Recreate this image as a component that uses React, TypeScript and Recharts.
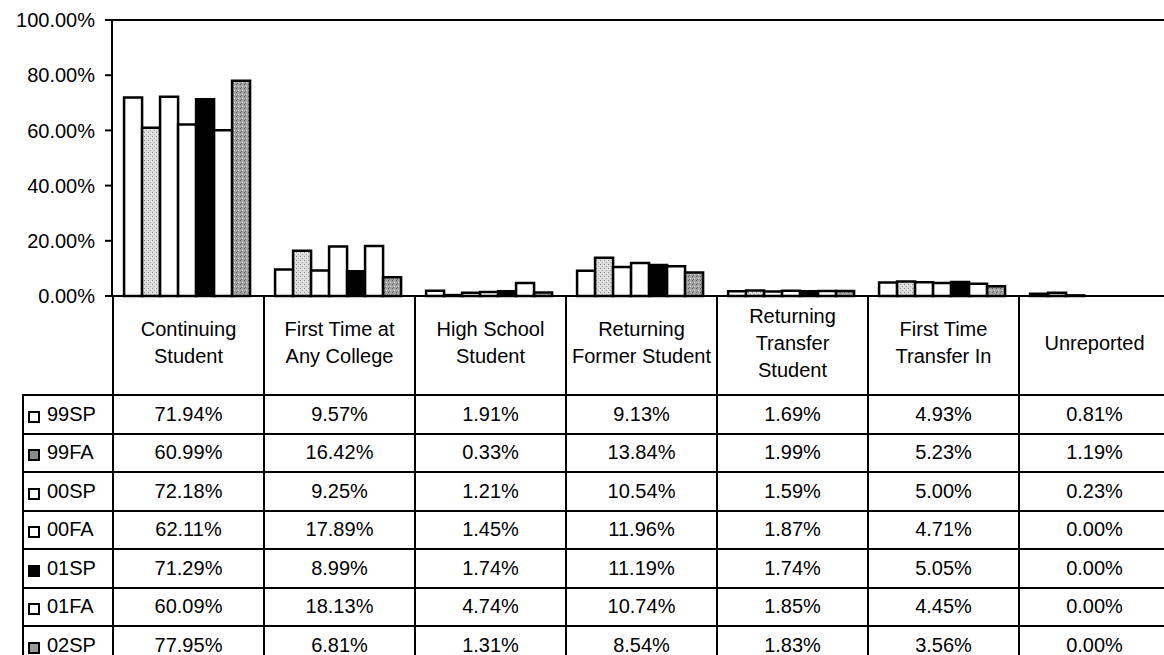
import { BarChart, Bar, XAxis, YAxis, ReferenceLine } from 'recharts';

const categories = [
  'Continuing Student',
  'First Time at Any College',
  'High School Student',
  'Returning Former Student',
  'Returning Transfer Student',
  'First Time Transfer In',
  'Unreported',
];
const headerLines = [
  ['Continuing', 'Student'],
  ['First Time at', 'Any College'],
  ['High School', 'Student'],
  ['Returning', 'Former Student'],
  ['Returning', 'Transfer', 'Student'],
  ['First Time', 'Transfer In'],
  ['Unreported'],
];

const terms = ['99SP', '99FA', '00SP', '00FA', '01SP', '01FA', '02SP'];
const s99SP = [71.94, 9.57, 1.91, 9.13, 1.69, 4.93, 0.81];
const s99FA = [60.99, 16.42, 0.33, 13.84, 1.99, 5.23, 1.19];
const s00SP = [72.18, 9.25, 1.21, 10.54, 1.59, 5.0, 0.23];
const s00FA = [62.11, 17.89, 1.45, 11.96, 1.87, 4.71, 0.0];
const s01SP = [71.29, 8.99, 1.74, 11.19, 1.74, 5.05, 0.0];
const s01FA = [60.09, 18.13, 4.74, 10.74, 1.85, 4.45, 0.0];
const s02SP = [77.95, 6.81, 1.31, 8.54, 1.83, 3.56, 0.0];
const yTicks = [0, 20, 40, 60, 80, 100];

const series = [s99SP, s99FA, s00SP, s00FA, s01SP, s01FA, s02SP];
const fills = ['#ffffff', 'url(#stipLight)', '#ffffff', '#ffffff', '#000000', '#ffffff', 'url(#stipDark)'];
const keyFills = ['#ffffff', '#8a8a8a', '#ffffff', '#ffffff', '#000000', '#ffffff', '#9a9a9a'];

const data = categories.map((name, i) => {
  const row: Record<string, number | string> = { name };
  terms.forEach((t, j) => {
    row[t] = series[j][i];
  });
  return row;
});

const FONT = '"Liberation Sans", Arial, sans-serif';
const AXIS_W = 112;
const BAND = 151;
const CHART_W = AXIS_W + BAND * categories.length;

export default function App() {
  const line = '2px solid #000';
  return (
    <div style={{ position: 'absolute', left: 0, top: 0, width: 1164, height: 655, overflow: 'hidden', background: '#fff', fontFamily: FONT }}>
      <BarChart
        width={CHART_W}
        height={394}
        data={data}
        margin={{ top: 20, right: 0, left: 0, bottom: 98 }}
        barCategoryGap="8%"
        barGap={0}
      >
        <defs>
          <pattern id="stipLight" width="4" height="4" patternUnits="userSpaceOnUse">
            <rect width="4" height="4" fill="#dcdcdc" />
            <rect x="0" y="0" width="1" height="1" fill="#8c8c8c" />
            <rect x="2" y="2" width="1" height="1" fill="#a8a8a8" />
            <rect x="3" y="1" width="1" height="1" fill="#f4f4f4" />
          </pattern>
          <pattern id="stipDark" width="4" height="4" patternUnits="userSpaceOnUse">
            <rect width="4" height="4" fill="#a4a4a4" />
            <rect x="0" y="0" width="1" height="1" fill="#5a5a5a" />
            <rect x="2" y="2" width="1" height="1" fill="#e0e0e0" />
            <rect x="1" y="3" width="1" height="1" fill="#6e6e6e" />
          </pattern>
        </defs>
        <XAxis dataKey="name" hide />
        <YAxis
          width={AXIS_W}
          domain={[0, 100]}
          ticks={yTicks}
          interval={0}
          tickFormatter={(v: number) => v.toFixed(2) + '%'}
          tick={{ fill: '#000', fontSize: 20, fontFamily: FONT }}
          tickSize={7}
          tickMargin={10}
          tickLine={{ stroke: '#000', strokeWidth: 2 }}
          axisLine={{ stroke: '#000', strokeWidth: 2 }}
        />
        <ReferenceLine y={100} stroke="#000" strokeWidth={2} />
        {terms.map((t, j) => (
          <Bar key={t} dataKey={t} fill={fills[j]} stroke="#000" strokeWidth={2.5} isAnimationActive={false} />
        ))}
      </BarChart>

      <table
        style={{
          position: 'absolute',
          left: 22,
          top: 295,
          borderCollapse: 'collapse',
          tableLayout: 'fixed',
          width: CHART_W - 22,
          fontSize: 20,
          fontFamily: FONT,
          color: '#000',
        }}
      >
        <colgroup>
          <col style={{ width: AXIS_W - 22 }} />
          {categories.map((c) => (
            <col key={c} style={{ width: BAND }} />
          ))}
        </colgroup>
        <tbody>
          <tr style={{ height: 99 }}>
            <td style={{ borderRight: line, borderBottom: line, borderTop: 'none', borderLeft: 'none' }} />
            {headerLines.map((lines, i) => (
              <td
                key={i}
                style={{ border: line, textAlign: 'center', verticalAlign: 'middle', lineHeight: '27px', paddingBottom: 6, paddingLeft: 0, paddingRight: 0 }}
              >
                {lines.map((l) => (
                  <div key={l} style={{ whiteSpace: 'nowrap' }}>{l}</div>
                ))}
              </td>
            ))}
          </tr>
          {terms.map((t, j) => (
            <tr key={t} style={{ height: 38.5 }}>
              <td style={{ border: line, padding: '0 0 0 4px', whiteSpace: 'nowrap' }}>
                <span
                  style={{
                    display: 'inline-block',
                    width: 8,
                    height: 8,
                    border: line,
                    background: keyFills[j],
                    marginRight: 7,
                    verticalAlign: -2,
                  }}
                />
                {t}
              </td>
              {series[j].map((v, i) => (
                <td key={i} style={{ border: line, textAlign: 'center', padding: 0 }}>
                  {v.toFixed(2)}%
                </td>
              ))}
            </tr>
          ))}
        </tbody>
      </table>
    </div>
  );
}
